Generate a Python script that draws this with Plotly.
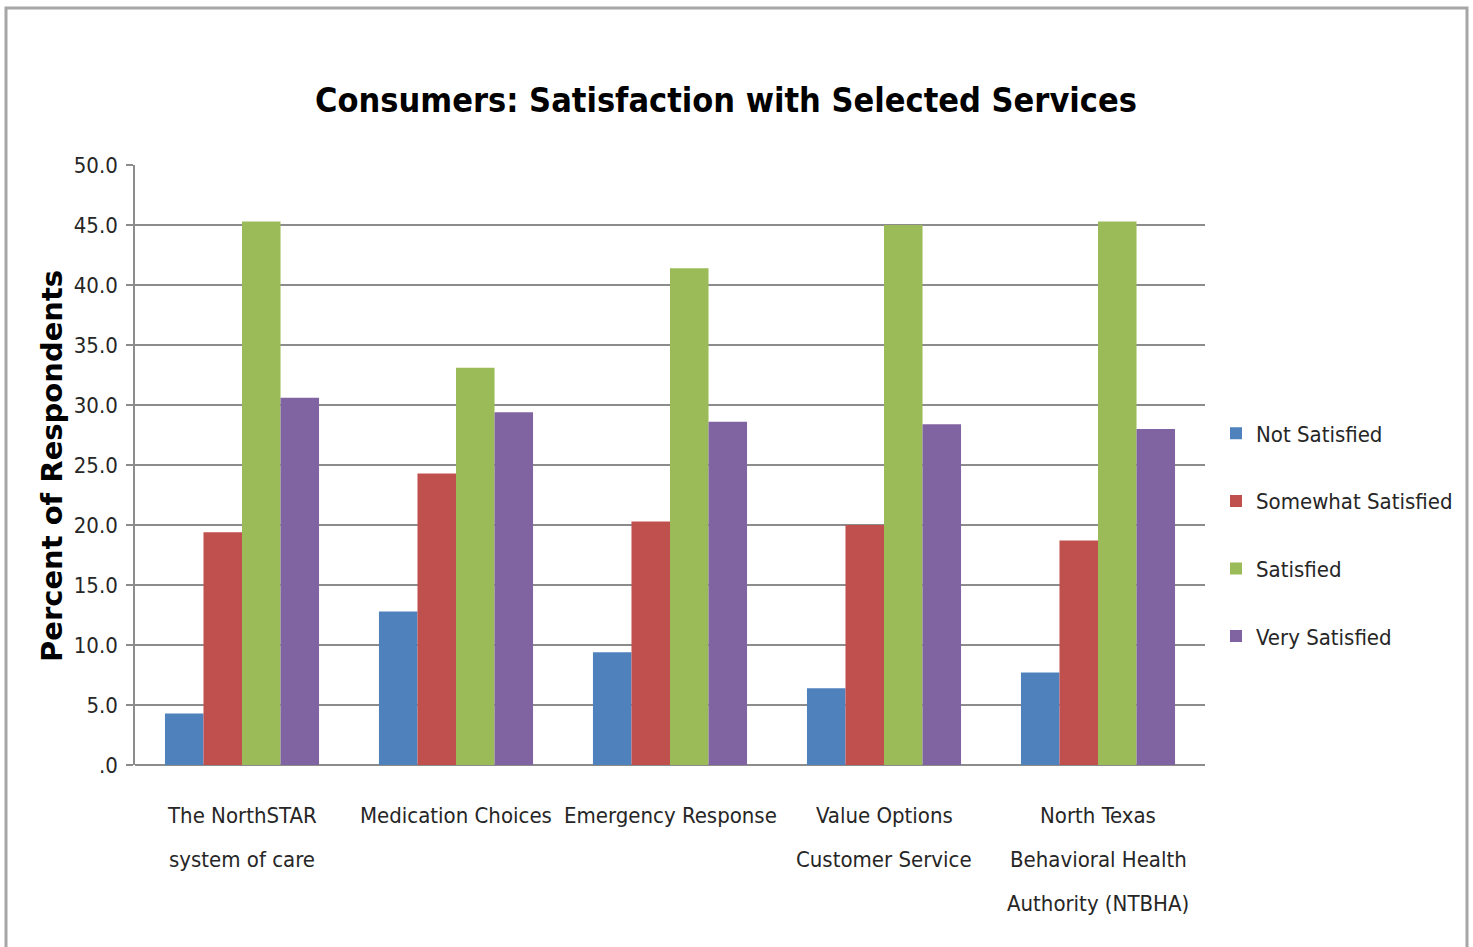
import plotly.graph_objects as go

# Survey categories (each label line listed separately)
categories = [
    "The NorthSTAR system of care",
    "Medication Choices",
    "Emergency Response",
    "Value Options Customer Service",
    "North Texas Behavioral Health Authority (NTBHA)",
]
category_lines = [
    ["The NorthSTAR", "system of care"],
    ["Medication Choices"],
    ["Emergency Response"],
    ["Value Options", "Customer Service"],
    ["North Texas", "Behavioral Health", "Authority (NTBHA)"],
]

# Percent of respondents per satisfaction level
not_satisfied = [4.3, 12.8, 9.4, 6.4, 7.7]
somewhat_satisfied = [19.4, 24.3, 20.3, 20.0, 18.7]
satisfied = [45.3, 33.1, 41.4, 45.0, 45.3]
very_satisfied = [30.6, 29.4, 28.6, 28.4, 28.0]

series_names = ["Not Satisfied", "Somewhat Satisfied", "Satisfied", "Very Satisfied"]
series_values = [not_satisfied, somewhat_satisfied, satisfied, very_satisfied]
series_colors = ["#4F81BD", "#C0504D", "#9BBB59", "#8064A2"]

y_tickvals = [0, 5, 10, 15, 20, 25, 30, 35, 40, 45, 50]
y_ticktext = [".0", "5.0", "10.0", "15.0", "20.0", "25.0", "30.0", "35.0", "40.0", "45.0", "50.0"]

NARROW = "Liberation Sans Narrow, Noto Sans Condensed, DejaVu Sans Condensed, sans-serif"
TEXT_COLOR = "#262626"
GRID = "#8c8c8c"

fig = go.Figure()
for i, (name, vals, col) in enumerate(zip(series_names, series_values, series_colors)):
    fig.add_trace(go.Bar(
        name=name, x=categories, y=vals,
        marker=dict(color=col, line=dict(width=0)),
        legendgroup=f"g{i}",
    ))

W, H = 1473, 947
L, R, T, B = 135, 268, 165, 182
pw, ph = W - L - R, H - T - B

annotations = []
# Category labels, one annotation per line for wider line spacing
for cat, lines in zip(categories, category_lines):
    for j, line in enumerate(lines):
        annotations.append(dict(
            x=cat, xref="x", y=0, yref="paper",
            text=line, showarrow=False,
            xanchor="center", yanchor="middle",
            yshift=-(50 + 44 * j),
            font=dict(family=NARROW, size=22, color=TEXT_COLOR),
        ))

# Y-axis title
annotations.append(dict(
    x=(52 - L) / pw, xref="paper", y=(H - B - 466) / ph, yref="paper",
    text="<b>Percent of Respondents</b>", showarrow=False, textangle=-90,
    xanchor="center", yanchor="middle",
    font=dict(family="DejaVu Sans, Verdana, sans-serif", size=29, color="#000000"),
))

# Outer chart frame
frame = dict(
    type="rect", xref="paper", yref="paper",
    x0=(6 - L) / pw, x1=(1467 - L) / pw,
    y0=(H - B - 960) / ph, y1=(H - B - 8) / ph,
    line=dict(color="#a6a6a6", width=3), fillcolor="rgba(0,0,0,0)", layer="below",
)

fig.update_layout(
    width=W, height=H,
    margin=dict(l=L, r=R, t=T, b=B, autoexpand=False),
    paper_bgcolor="white", plot_bgcolor="white",
    barmode="group", bargap=0.28, bargroupgap=0,
    title=dict(
        text="<b>Consumers: Satisfaction with Selected Services</b>",
        x=726 / W, xref="container", xanchor="center",
        y=1 - 100 / H, yref="container", yanchor="middle",
        font=dict(family=NARROW, size=34, color="#000000"),
    ),
    xaxis=dict(
        showticklabels=False, showgrid=False, zeroline=False,
        showline=False, ticks="",
    ),
    yaxis=dict(
        range=[0, 50], tickvals=y_tickvals, ticktext=y_ticktext,
        showgrid=True, gridcolor=GRID, gridwidth=1.5,
        zeroline=True, zerolinecolor=GRID, zerolinewidth=1.5,
        showline=True, linecolor=GRID, linewidth=1.5,
        ticks="outside", ticklen=7, tickcolor=GRID, tickwidth=1.5,
        ticklabelstandoff=4,
        tickfont=dict(family=NARROW, size=22, color=TEXT_COLOR),
    ),
    legend=dict(
        x=(1216 - L) / pw, xanchor="left",
        y=(H - B - 535) / ph, yanchor="middle",
        font=dict(family=NARROW, size=22, color=TEXT_COLOR),
        tracegroupgap=36, bgcolor="rgba(0,0,0,0)", borderwidth=0,
    ),
    annotations=annotations,
    shapes=[frame],
    showlegend=True,
)

fig.write_html("out.html")
